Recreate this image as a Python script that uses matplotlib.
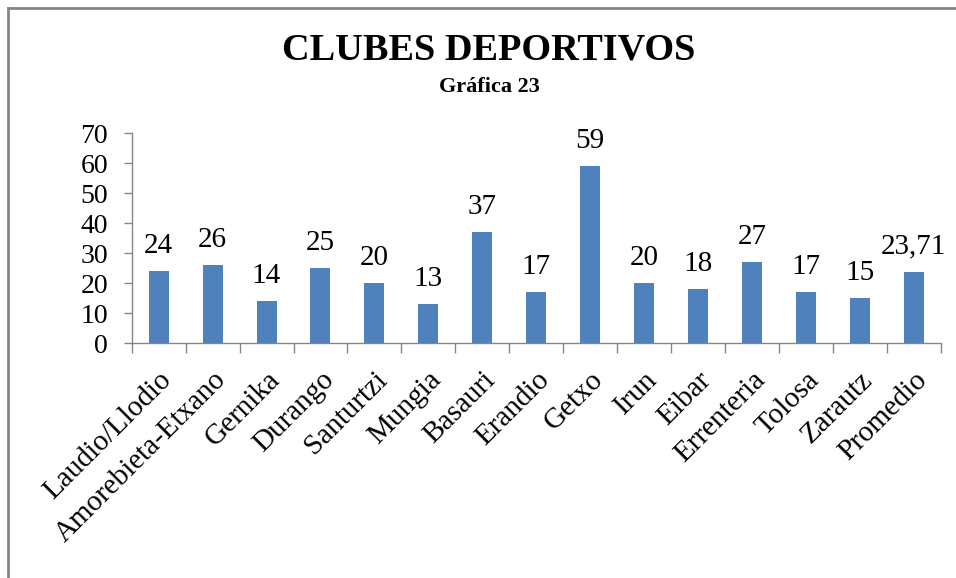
import matplotlib.pyplot as plt
from matplotlib.lines import Line2D

# data
clubes = ["Laudio/Llodio", "Amorebieta-Etxano", "Gernika", "Durango", "Santurtzi",
          "Mungia", "Basauri", "Erandio", "Getxo", "Irun", "Eibar", "Errenteria",
          "Tolosa", "Zarautz", "Promedio"]
valores = [24, 26, 14, 25, 20, 13, 37, 17, 59, 20, 18, 27, 17, 15, 23.71]
etiquetas = ["24", "26", "14", "25", "20", "13", "37", "17", "59", "20",
             "18", "27", "17", "15", "23,71"]

plt.rcParams['font.family'] = ['Liberation Serif', 'DejaVu Serif']

W, H = 956, 578
fig = plt.figure(figsize=(W / 100, H / 100), dpi=100)
ax = fig.add_axes([131.7 / W, 1 - 343.3 / H, (940.7 - 131.7) / W, (343.3 - 133.3) / H])

gris = "#868686"
x = list(range(len(clubes)))
ax.bar(x, valores, width=0.37, color="#4F81BD", zorder=2)

for xi, v, t in zip(x, valores, etiquetas):
    ax.annotate(t, (xi, v), xytext=(0, 9), textcoords="offset points",
                ha="center", va="bottom", fontsize=21)

ax.set_xlim(-0.5, len(clubes) - 0.5)
ax.set_ylim(0, 70)
ax.set_yticks(range(0, 71, 10))
ax.tick_params(axis="y", labelsize=20, length=6, width=1, color=gris, pad=11)

# category ticks between bars
ax.set_xticks([i - 0.5 for i in range(len(clubes) + 1)], minor=True)
ax.set_xticks(x)
ax.set_xticklabels(clubes, rotation=45, ha="right", rotation_mode="anchor", fontsize=21)
ax.tick_params(axis="x", which="major", length=0, pad=17)
ax.tick_params(axis="x", which="minor", length=7, width=1, color=gris)

for s in ["top", "right"]:
    ax.spines[s].set_visible(False)
for s in ["left", "bottom"]:
    ax.spines[s].set_color(gris)
    ax.spines[s].set_linewidth(1)

fig.text(0.511, 1 - 50 / H, "CLUBES DEPORTIVOS", ha="center", va="center",
         fontsize=27.5, fontweight="bold")
fig.text(0.512, 1 - 87 / H, "Gráfica 23", ha="center", va="center",
         fontsize=16, fontweight="bold")

# chart frame (top and left edges visible)
fig.add_artist(Line2D([8 / W, 1], [1 - 8 / H, 1 - 8 / H], color=gris, lw=2))
fig.add_artist(Line2D([8 / W, 8 / W], [0, 1 - 8 / H], color=gris, lw=2))

fig.savefig("out.png", dpi=100)
